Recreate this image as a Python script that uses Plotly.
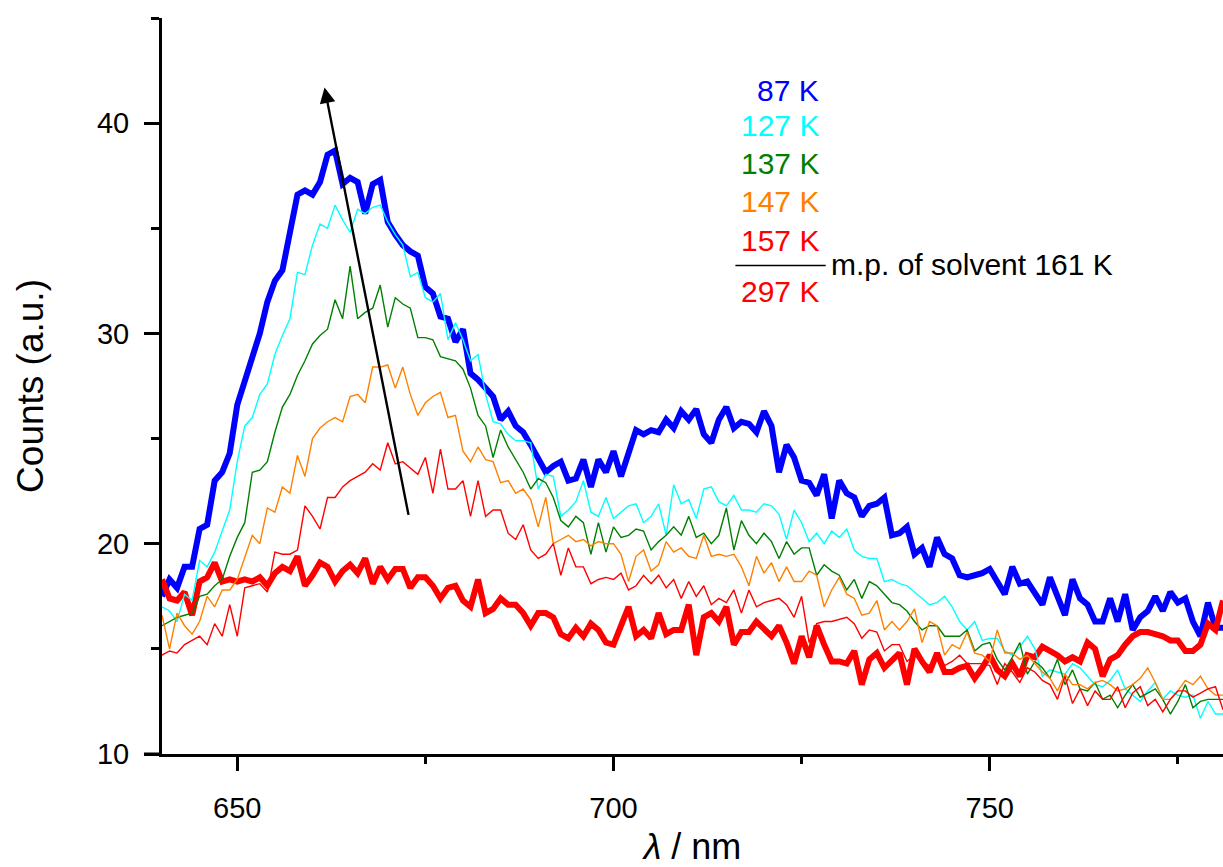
import plotly.graph_objects as go

wavelength = list(range(640, 782))

k87 = [17.5, 18.3, 17.9, 18.9, 18.9, 20.7, 20.9, 23.0, 23.4, 24.3,
       26.6, 27.8, 28.9, 30.0, 31.5, 32.5, 33.0, 34.7, 36.6, 36.8,
       36.6, 37.2, 38.5, 38.7, 37.1, 37.4, 37.2, 35.7, 37.1, 37.3,
       35.3, 34.7, 34.2, 33.9, 33.7, 32.2, 31.9, 30.8, 30.7, 29.6,
       30.2, 28.1, 27.8, 27.4, 27.0, 25.9, 26.3, 25.6, 25.3, 24.7,
       24.1, 23.4, 23.7, 23.9, 23.0, 23.1, 24.0, 22.7, 24.0, 23.4,
       24.4, 23.2, 24.3, 25.4, 25.2, 25.4, 25.3, 25.9, 25.5, 26.3,
       25.9, 26.4, 25.2, 24.8, 25.9, 26.5, 25.5, 25.8, 25.7, 25.3,
       26.3, 25.6, 23.4, 24.7, 24.1, 23.0, 22.9, 22.3, 23.3, 21.2,
       23.0, 22.4, 22.2, 21.3, 21.8, 21.9, 22.2, 20.4, 20.5, 20.8,
       19.5, 19.8, 18.9, 20.3, 19.5, 19.3, 18.5, 18.4, 18.5, 18.6,
       18.8, 18.2, 17.6, 18.9, 18.1, 18.2, 17.7, 17.1, 18.4, 17.4,
       16.6, 18.3, 17.4, 17.1, 16.3, 16.3, 17.4, 16.3, 17.6, 15.9,
       16.5, 16.8, 17.5, 16.8, 17.7, 17.2, 17.4, 16.3, 15.6, 17.2,
       16.0, 16.0]

k127 = [17.0, 16.8, 16.3, 17.6, 17.3, 19.2, 18.9, 19.6, 20.6, 21.6,
        23.9, 25.6, 26.0, 27.1, 27.6, 29.0, 29.9, 30.7, 32.9, 32.8,
        34.2, 35.2, 35.0, 36.1, 35.4, 34.8, 35.9, 35.7, 36.0, 36.1,
        35.3, 34.7, 34.2, 32.7, 32.9, 31.7, 31.5, 31.9, 29.7, 30.5,
        29.7, 28.7, 29.0, 27.1, 25.8, 25.7, 25.2, 24.9, 24.9, 24.8,
        22.6, 23.3, 23.2, 21.3, 21.6, 22.0, 23.0, 21.5, 21.3, 22.2,
        21.2, 21.5, 21.8, 21.9, 21.0, 21.3, 21.9, 20.4, 22.8, 21.9,
        22.1, 21.2, 22.6, 22.7, 22.0, 21.8, 22.3, 21.6, 21.6, 21.5,
        21.9, 21.8, 21.4, 20.2, 21.6, 21.0, 20.1, 20.5, 20.0, 20.6,
        20.3, 20.7, 19.7, 19.4, 19.3, 19.3, 18.2, 18.3, 18.1, 18.0,
        17.7, 17.4, 17.1, 17.2, 17.5, 17.0, 16.3, 15.9, 16.3, 15.4,
        15.5, 15.5, 14.9, 14.7, 15.1, 15.6, 15.0, 13.7, 14.0, 13.9,
        13.8, 14.3, 14.1, 13.7, 13.3, 13.2, 13.5, 14.0, 13.1, 12.8,
        12.5, 13.0, 13.4, 12.6, 13.0, 12.8, 12.7, 12.8, 11.7, 12.5,
        11.9, 11.9]

k137 = [16.1, 16.3, 16.5, 16.6, 16.7, 17.5, 17.6, 18.0, 18.3, 19.4,
        20.3, 21.0, 23.4, 23.5, 23.9, 25.3, 26.5, 27.1, 28.0, 28.7,
        29.5, 29.9, 30.2, 31.6, 30.7, 33.2, 30.7, 31.0, 31.2, 32.3,
        30.3, 31.7, 31.4, 31.2, 29.8, 29.8, 29.7, 28.9, 28.8, 28.7,
        28.3, 27.4, 26.1, 25.6, 24.1, 25.4, 24.6, 24.0, 23.4, 22.6,
        23.1, 22.9, 22.2, 21.1, 20.8, 21.3, 21.0, 19.5, 21.0, 19.6,
        20.8, 20.3, 20.4, 20.7, 20.6, 19.7, 20.1, 20.4, 20.8, 20.4,
        21.3, 20.3, 20.5, 20.0, 20.4, 21.7, 19.7, 21.1, 20.4, 20.0,
        20.5, 20.1, 19.3, 20.1, 19.5, 19.8, 19.8, 18.5, 19.0, 18.7,
        18.5, 17.8, 18.3, 17.4, 18.2, 18.0, 17.6, 17.2, 17.1, 16.8,
        16.3, 15.9, 16.1, 16.1, 15.6, 15.6, 15.6, 15.9, 14.9, 15.2,
        15.3, 14.5, 14.0, 14.6, 15.3, 13.8, 14.4, 14.1, 13.6, 14.5,
        13.3, 14.0, 13.1, 13.0, 13.4, 12.6, 12.8, 12.2, 12.8, 13.3,
        12.7, 12.9, 13.1, 12.6, 11.9, 12.5, 13.3, 12.2, 12.5, 12.6,
        12.6, 12.6]

k147 = [16.6, 15.0, 16.7, 16.1, 15.7, 16.3, 17.5, 17.0, 17.8, 17.8,
        18.3, 19.4, 20.4, 20.0, 21.7, 21.5, 22.7, 22.4, 24.2, 23.2,
        25.0, 25.5, 25.8, 26.0, 25.8, 27.0, 27.1, 26.7, 28.4, 28.4,
        28.5, 27.4, 28.4, 27.1, 26.1, 26.7, 27.0, 27.2, 26.0, 26.1,
        24.4, 23.9, 24.6, 24.0, 23.9, 22.9, 23.0, 22.4, 22.6, 22.1,
        20.8, 22.2, 20.0, 20.2, 20.4, 20.1, 20.2, 19.9, 20.1, 20.0,
        20.0, 19.5, 18.2, 19.4, 19.7, 18.7, 19.0, 20.1, 19.6, 19.8,
        19.4, 19.3, 20.4, 19.4, 19.5, 19.4, 19.5, 18.9, 18.0, 19.4,
        18.6, 19.1, 18.2, 18.9, 18.2, 18.2, 18.7, 18.5, 17.0, 17.8,
        18.4, 17.6, 17.4, 16.6, 16.7, 17.3, 15.9, 16.3, 15.9, 16.3,
        16.9, 15.3, 16.3, 16.1, 14.7, 15.2, 15.0, 15.8, 14.8, 14.7,
        14.4, 15.9, 14.8, 14.8, 14.5, 14.7, 14.3, 13.9, 13.6, 13.0,
        13.8, 13.3, 13.3, 13.1, 13.4, 13.5, 13.3, 13.0, 13.1, 13.3,
        13.6, 14.1, 13.4, 12.6, 12.6, 13.0, 13.5, 13.3, 13.7, 13.1,
        12.8, 12.8]

k157 = [14.7, 14.9, 14.8, 15.2, 15.4, 15.6, 15.2, 16.2, 15.6, 17.1,
        15.6, 17.9, 18.0, 18.1, 17.7, 19.6, 19.5, 19.5, 19.7, 21.8,
        21.3, 20.7, 22.2, 22.2, 22.7, 23.0, 23.2, 23.4, 23.8, 23.5,
        24.8, 23.8, 23.9, 23.6, 23.3, 24.1, 22.4, 24.5, 22.6, 22.6,
        23.0, 21.3, 23.0, 21.3, 21.6, 21.6, 20.5, 20.2, 20.9, 19.7,
        19.3, 19.5, 20.0, 18.5, 19.8, 18.9, 18.9, 18.1, 18.3, 18.4,
        18.3, 18.6, 17.8, 18.0, 18.5, 18.1, 18.5, 17.9, 18.3, 17.4,
        18.2, 17.5, 18.0, 17.1, 17.4, 17.2, 17.8, 16.7, 17.8, 17.0,
        17.2, 17.3, 17.4, 17.1, 16.5, 17.5, 15.3, 16.2, 16.3, 16.3,
        16.4, 16.5, 16.2, 15.5, 15.9, 15.8, 14.9, 15.2, 15.2, 14.4,
        14.7, 14.4, 14.2, 14.8, 14.2, 14.4, 14.7, 14.3, 14.3, 14.3,
        14.2, 13.3, 14.3, 13.9, 13.4, 14.1, 13.9, 13.5, 13.3, 12.6,
        13.7, 12.4, 13.1, 12.3, 13.0, 12.6, 12.6, 13.2, 12.2, 12.9,
        13.2, 12.3, 12.6, 12.0, 12.6, 13.0, 13.0, 12.7, 12.9, 13.1,
        13.2, 12.1]

k297 = [18.3, 17.4, 17.3, 17.7, 16.6, 18.2, 18.4, 19.1, 18.2, 18.3,
        18.2, 18.3, 18.2, 18.4, 18.0, 18.6, 18.9, 18.7, 19.4, 18.0,
        18.5, 19.1, 18.9, 18.2, 18.7, 19.0, 18.6, 19.3, 18.1, 18.9,
        18.3, 18.8, 18.8, 17.9, 18.4, 18.4, 18.0, 17.4, 17.9, 18.0,
        17.3, 17.0, 18.3, 16.7, 16.9, 17.4, 17.1, 17.1, 16.7, 16.1,
        16.7, 16.7, 16.5, 15.7, 15.5, 16.0, 15.6, 16.2, 15.9, 15.3,
        15.2, 16.1, 17.0, 15.6, 15.9, 15.5, 16.7, 15.7, 15.9, 15.9,
        17.1, 14.7, 16.5, 16.7, 16.3, 17.0, 15.2, 15.8, 15.8, 16.3,
        15.9, 15.6, 16.1, 15.3, 14.3, 15.6, 14.6, 16.1, 15.2, 14.4,
        14.4, 14.3, 14.9, 13.3, 14.5, 14.8, 14.1, 14.5, 14.8, 13.3,
        15.0, 14.4, 13.9, 14.8, 13.9, 13.9, 14.1, 14.2, 13.6, 14.1,
        14.7, 14.0, 13.7, 14.3, 13.7, 14.7, 14.6, 15.1, 14.9, 14.7,
        14.4, 14.6, 14.4, 15.3, 15.0, 13.7, 14.5, 14.7, 15.2, 15.6,
        15.8, 15.8, 15.7, 15.6, 15.4, 15.4, 14.9, 14.9, 15.2, 16.2,
        15.9, 17.3]

labels = ["87 K", "127 K", "137 K", "147 K", "157 K", "297 K"]
colors = ["#0000FF", "#00FFFF", "#008000", "#FF8000", "#FF0000", "#FF0000"]

FONT = "Liberation Sans, Arial, sans-serif"

fig = go.Figure()
# thick curves first, thin ones on top
order = [(k87, 0, 6), (k297, 5, 6), (k127, 1, 1.4), (k137, 2, 1.4), (k147, 3, 1.4), (k157, 4, 1.4)]
for vals, idx, w in order:
    fig.add_trace(go.Scatter(x=wavelength, y=vals, mode="lines", name=labels[idx],
                             line=dict(color=colors[idx], width=w), showlegend=False))

# arrow
fig.add_annotation(x=661.6, y=41.7, ax=672.8, ay=21.3, xref="x", yref="y",
                   axref="x", ayref="y", text="", showarrow=True,
                   arrowhead=2, arrowsize=1.3, arrowwidth=2.4, arrowcolor="black")

# label block
label_y = [41.55, 39.87, 38.06, 36.26, 34.44, 32.0]
for lab, col, yy in zip(labels, colors, label_y):
    fig.add_annotation(x=727.6, y=yy, xref="x", yref="y", text=lab, showarrow=False,
                       xanchor="right", yanchor="middle",
                       font=dict(family=FONT, size=30, color=col))
fig.add_shape(type="line", x0=716.2, x1=728.2, y0=33.23, y1=33.23, xref="x", yref="y",
              line=dict(color="black", width=1.5))
fig.add_annotation(x=728.6, y=33.3, xref="x", yref="y", text="m.p. of solvent 161 K",
                   showarrow=False, xanchor="left", yanchor="middle",
                   font=dict(family=FONT, size=30, color="black"))

# x-axis line extends slightly left of the y-axis
fig.add_shape(type="line", xref="paper", yref="paper", x0=-0.017, x1=0, y0=0, y1=0,
              line=dict(color="black", width=3))

fig.update_layout(
    width=1223, height=867,
    margin=dict(l=162, r=0, t=18, b=108),
    paper_bgcolor="white", plot_bgcolor="white",
    font=dict(family=FONT, size=29, color="black"),
    xaxis=dict(range=[640, 781], showgrid=False, zeroline=False,
               showline=True, linecolor="black", linewidth=3,
               ticks="outside", ticklen=14, tickwidth=3, tickcolor="black",
               tick0=650, dtick=50, ticklabelstandoff=12,
               minor=dict(ticks="outside", ticklen=7, tickwidth=3, tickcolor="black", dtick=25),
               title=dict(text="<i>λ</i> / nm", font=dict(size=36), standoff=18)),
    yaxis=dict(range=[10, 45], showgrid=False, zeroline=False,
               showline=True, linecolor="black", linewidth=3,
               ticks="outside", ticklen=15, tickwidth=3, tickcolor="black",
               tick0=10, dtick=10, ticklabelstandoff=9,
               minor=dict(ticks="outside", ticklen=8, tickwidth=3, tickcolor="black", dtick=5),
               title=dict(text="Counts (a.u.)", font=dict(size=37), standoff=42)),
)

fig.write_html("out.html")
